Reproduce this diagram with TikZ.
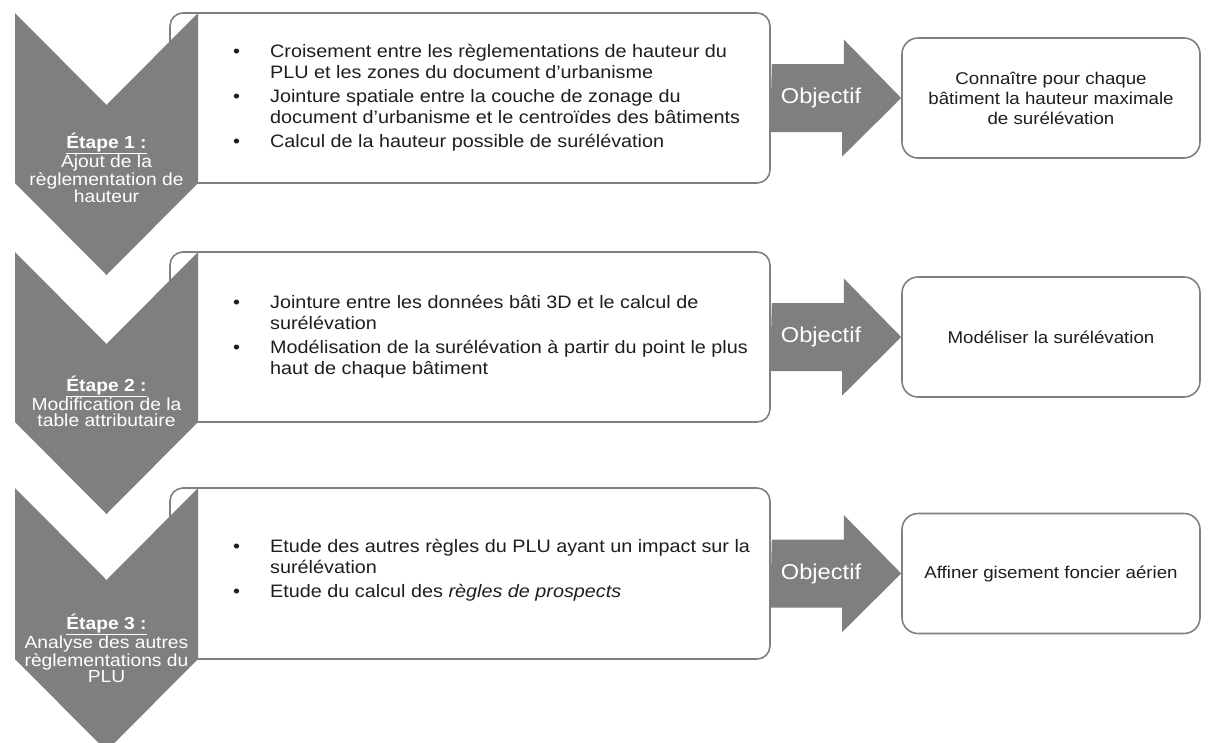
\documentclass[tikz,border=0pt]{standalone}
\usepackage{fontspec}
\setmainfont[FakeStretch=1.1]{Liberation Sans}
\definecolor{chev}{RGB}{127,127,127}
\definecolor{bord}{RGB}{128,128,128}
\definecolor{txt}{RGB}{30,30,30}
\begin{document}
\begin{tikzpicture}[x=1pt,y=-1pt,
  gbox/.style={draw=bord, line width=1.6pt, fill=white, rounded corners=13pt, inner sep=0pt},
  rbox/.style={draw=bord, line width=1.6pt, fill=white, rounded corners=16pt, minimum width=298pt, minimum height=120pt, align=center, text=txt, font=\fontsize{17}{20}\selectfont, inner sep=0pt},
  chevshape/.style={fill=chev, draw=none},
  ctext/.style={text=white, align=center, font=\fontsize{17.5}{16}\selectfont, inner sep=0pt},
  btext/.style={anchor=west, text=txt, font=\fontsize{18}{21}\selectfont, inner sep=0pt},
  arr/.style={fill=chev, draw=none},
  obj/.style={text=white, font=\fontsize{21.5}{24}\selectfont, inner sep=0pt}]
\useasboundingbox (0,0) rectangle (1215,742);
% text boxes (left part hidden by chevrons)
\node[gbox, minimum width=600pt, minimum height=170pt] (b1) at (470,98) {};
\node[gbox, minimum width=600pt, minimum height=170pt] (b2) at (470,337) {};
\node[gbox, minimum width=600pt, minimum height=171pt] (b3) at (470,573.5) {};
% chevrons
\fill[chevshape] (15,13) -- (106.5,105) -- (198,13) -- (198,183) -- (106.5,275) -- (15,183) -- cycle;
\fill[chevshape] (15,252) -- (106.5,344) -- (198,252) -- (198,422) -- (106.5,514) -- (15,422) -- cycle;
\fill[chevshape] (15,488) -- (106.5,580) -- (198,488) -- (198,659) -- (106.5,751) -- (15,659) -- cycle;
% chevron texts
\node[ctext] (c1) at (106.5,168) {\underline{\textbf{Étape 1 :}}\\Ajout de la\\règlementation de\\hauteur};
\node[ctext] (c2) at (106.5,401) {\underline{\textbf{Étape 2 :}}\\Modification de la\\table attributaire};
\node[ctext] (c3) at (106.5,648) {\underline{\textbf{Étape 3 :}}\\Analyse des autres\\règlementations du\\PLU};
% bullet texts
\node[btext] (t1) at (233,98) {\begin{tabular}{@{}p{37pt}@{}l@{}}
\textbullet & Croisement entre les règlementations de hauteur du\\
 & PLU et les zones du document d’urbanisme\\[3pt]
\textbullet & Jointure spatiale entre la couche de zonage du\\
 & document d’urbanisme et le centroïdes des bâtiments\\[3pt]
\textbullet & Calcul de la hauteur possible de surélévation
\end{tabular}};
\node[btext] (t2) at (233,337) {\begin{tabular}{@{}p{37pt}@{}l@{}}
\textbullet & Jointure entre les données bâti 3D et le calcul de\\
 & surélévation\\[3pt]
\textbullet & Modélisation de la surélévation à partir du point le plus\\
 & haut de chaque bâtiment
\end{tabular}};
\node[btext] (t3) at (233,571) {\begin{tabular}{@{}p{37pt}@{}l@{}}
\textbullet & Etude des autres règles du PLU ayant un impact sur la\\
 & surélévation\\[3pt]
\textbullet & Etude du calcul des \textit{règles de prospects}
\end{tabular}};
% result boxes
\node[rbox] (r1) at (1051,98) {Connaître pour chaque\\bâtiment la hauteur maximale\\de surélévation};
\node[rbox] (r2) at (1051,337) {Modéliser la surélévation};
\node[rbox] (r3) at (1051,573.5) {Affiner gisement foncier aérien};
% arrows
\fill[arr] (b1.east) ++(1,-34) -- ++(72,0) -- ++(0,-24.5) -- (r1.west) -- ++(-59,58.5) -- ++(0,-24.5) -- ++(-72,0) -- cycle;
\fill[arr] (b2.east) ++(1,-34) -- ++(72,0) -- ++(0,-24.5) -- (r2.west) -- ++(-59,58.5) -- ++(0,-24.5) -- ++(-72,0) -- cycle;
\fill[arr] (b3.east) ++(1,-34) -- ++(72,0) -- ++(0,-24.5) -- (r3.west) -- ++(-59,58.5) -- ++(0,-24.5) -- ++(-72,0) -- cycle;
\node[obj] (o1) at (821,98) {Objectif};
\node[obj] (o2) at (821,337) {Objectif};
\node[obj] (o3) at (821,573.5) {Objectif};
\end{tikzpicture}
\end{document}
